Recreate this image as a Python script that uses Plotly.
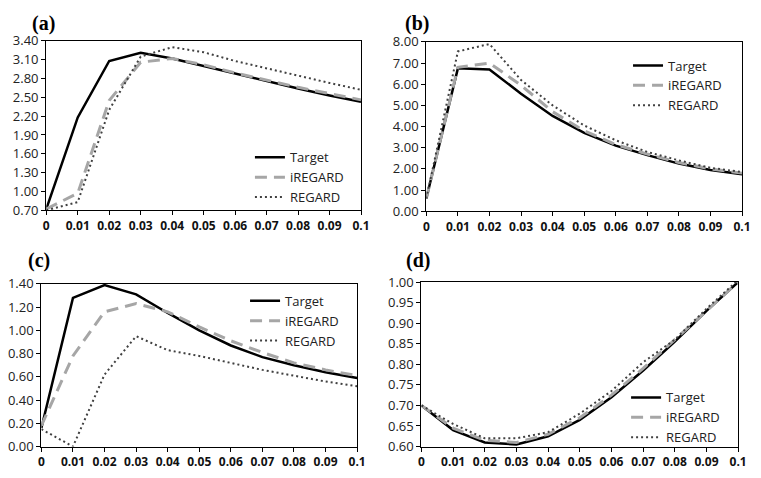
import plotly.graph_objects as go

x_vals = [0, 0.01, 0.02, 0.03, 0.04, 0.05, 0.06, 0.07, 0.08, 0.09, 0.1]
x_labels = ["0", "0.01", "0.02", "0.03", "0.04", "0.05", "0.06", "0.07", "0.08", "0.09", "0.1"]
series_names = ["Target", "iREGARD", "REGARD"]

a_target = [0.72, 2.18, 3.08, 3.21, 3.12, 3.00, 2.87, 2.75, 2.64, 2.53, 2.43]
a_iregard = [0.72, 0.97, 2.45, 3.06, 3.12, 3.02, 2.89, 2.77, 2.66, 2.56, 2.46]
a_regard = [0.70, 0.83, 2.30, 3.15, 3.30, 3.22, 3.08, 2.96, 2.84, 2.73, 2.62]

b_target = [0.60, 6.75, 6.70, 5.55, 4.50, 3.70, 3.10, 2.65, 2.25, 1.95, 1.75]
b_iregard = [0.60, 6.80, 7.00, 5.95, 4.70, 3.80, 3.15, 2.70, 2.30, 2.00, 1.80]
b_regard = [0.60, 7.55, 7.90, 6.20, 5.00, 4.05, 3.35, 2.80, 2.40, 2.05, 1.85]

c_target = [0.16, 1.28, 1.39, 1.31, 1.15, 1.00, 0.87, 0.77, 0.70, 0.64, 0.59]
c_iregard = [0.18, 0.78, 1.16, 1.23, 1.16, 1.03, 0.91, 0.81, 0.72, 0.66, 0.61]
c_regard = [0.15, 0.00, 0.62, 0.95, 0.83, 0.78, 0.72, 0.66, 0.61, 0.56, 0.52]

d_target = [0.700, 0.640, 0.610, 0.605, 0.625, 0.665, 0.720, 0.785, 0.855, 0.930, 1.000]
d_iregard = [0.700, 0.645, 0.615, 0.610, 0.630, 0.670, 0.725, 0.790, 0.860, 0.930, 1.000]
d_regard = [0.700, 0.655, 0.620, 0.620, 0.635, 0.680, 0.735, 0.805, 0.860, 0.935, 1.005]

panels = [
    ("(a)", [a_target, a_iregard, a_regard], [0.70, 3.40], 0.30),
    ("(b)", [b_target, b_iregard, b_regard], [0.0, 8.0], 1.0),
    ("(c)", [c_target, c_iregard, c_regard], [0.0, 1.40], 0.20),
    ("(d)", [d_target, d_iregard, d_regard], [0.60, 1.00], 0.05),
]

# page has an 8px body margin, so the figure is drawn 16px smaller and offset
OFF = 8
W, H = 761 - 2 * OFF, 478 - 2 * OFF
# plot boxes in page pixels: (left, right, top, bottom)
boxes = [(37, 360, 33, 210), (427, 751, 34, 211), (32, 356, 287, 457), (422, 747, 285, 457)]
legend_pos = [(246, 139), (634, 43), (241, 289), (632, 390)]
label_pos = [(20, 15), (403, 15), (16, 262), (404, 262)]


def fx(p):
    return (p - OFF) / W


def fy(p):
    return 1 - (p - OFF) / H


styles = [
    dict(color="#000000", width=2.5, dash="solid"),
    dict(color="#a6a6a6", width=3, dash="12px,7px"),
    dict(color="#404040", width=2, dash="2px,3px"),
]

fig = go.Figure()
layout = dict(
    width=W, height=H, autosize=False,
    margin=dict(l=0, r=0, t=0, b=0),
    paper_bgcolor="white", plot_bgcolor="white",
    showlegend=True,
)
annotations = []
for i, (lab, data, yr, dt) in enumerate(panels):
    k = i + 1
    xa = "x" if k == 1 else f"x{k}"
    ya = "y" if k == 1 else f"y{k}"
    lg = "legend" if k == 1 else f"legend{k}"
    for j, name in enumerate(series_names):
        fig.add_trace(go.Scatter(
            x=x_vals, y=data[j], mode="lines", name=name,
            line=styles[j], xaxis=xa, yaxis=ya, legend=lg,
        ))
    l, r, t, b = boxes[i]
    layout[f"xaxis{k if k > 1 else ''}"] = dict(
        domain=[fx(l), fx(r)], anchor=ya, range=[0, 0.1],
        tickvals=x_vals, ticktext=x_labels,
        tickfont=dict(family="Open Sans", size=12, color="#111", weight="bold"),
        showline=True, mirror=True, linecolor="#000", linewidth=1.3,
        ticks="outside", ticklen=4, tickcolor="#000",
        showgrid=False, zeroline=False, fixedrange=True,
    )
    layout[f"yaxis{k if k > 1 else ''}"] = dict(
        domain=[fy(b), fy(t)], anchor=xa, range=yr,
        dtick=dt, tick0=yr[0], tickformat=".2f",
        tickfont=dict(family="Open Sans", size=13, color="#222"),
        showline=True, mirror=True, linecolor="#000", linewidth=1.3,
        ticks="outside", ticklen=4, tickcolor="#000",
        showgrid=False, zeroline=False, fixedrange=True,
    )
    lx, ly = legend_pos[i]
    layout[lg] = dict(
        x=fx(lx), y=fy(ly), xanchor="left", yanchor="top",
        bgcolor="rgba(0,0,0,0)", borderwidth=0,
        font=dict(family="Open Sans", size=13, color="#222"),
        tracegroupgap=0, itemwidth=30,
    )
    px, py = label_pos[i]
    annotations.append(dict(
        text=f"<b>{lab}</b>", x=fx(px), y=fy(py), xref="paper", yref="paper",
        xanchor="left", yanchor="middle", showarrow=False,
        font=dict(family="Liberation Serif", size=20, color="#000"),
    ))
layout["annotations"] = annotations
fig.update_layout(**layout)
fig.write_html("out.html")
